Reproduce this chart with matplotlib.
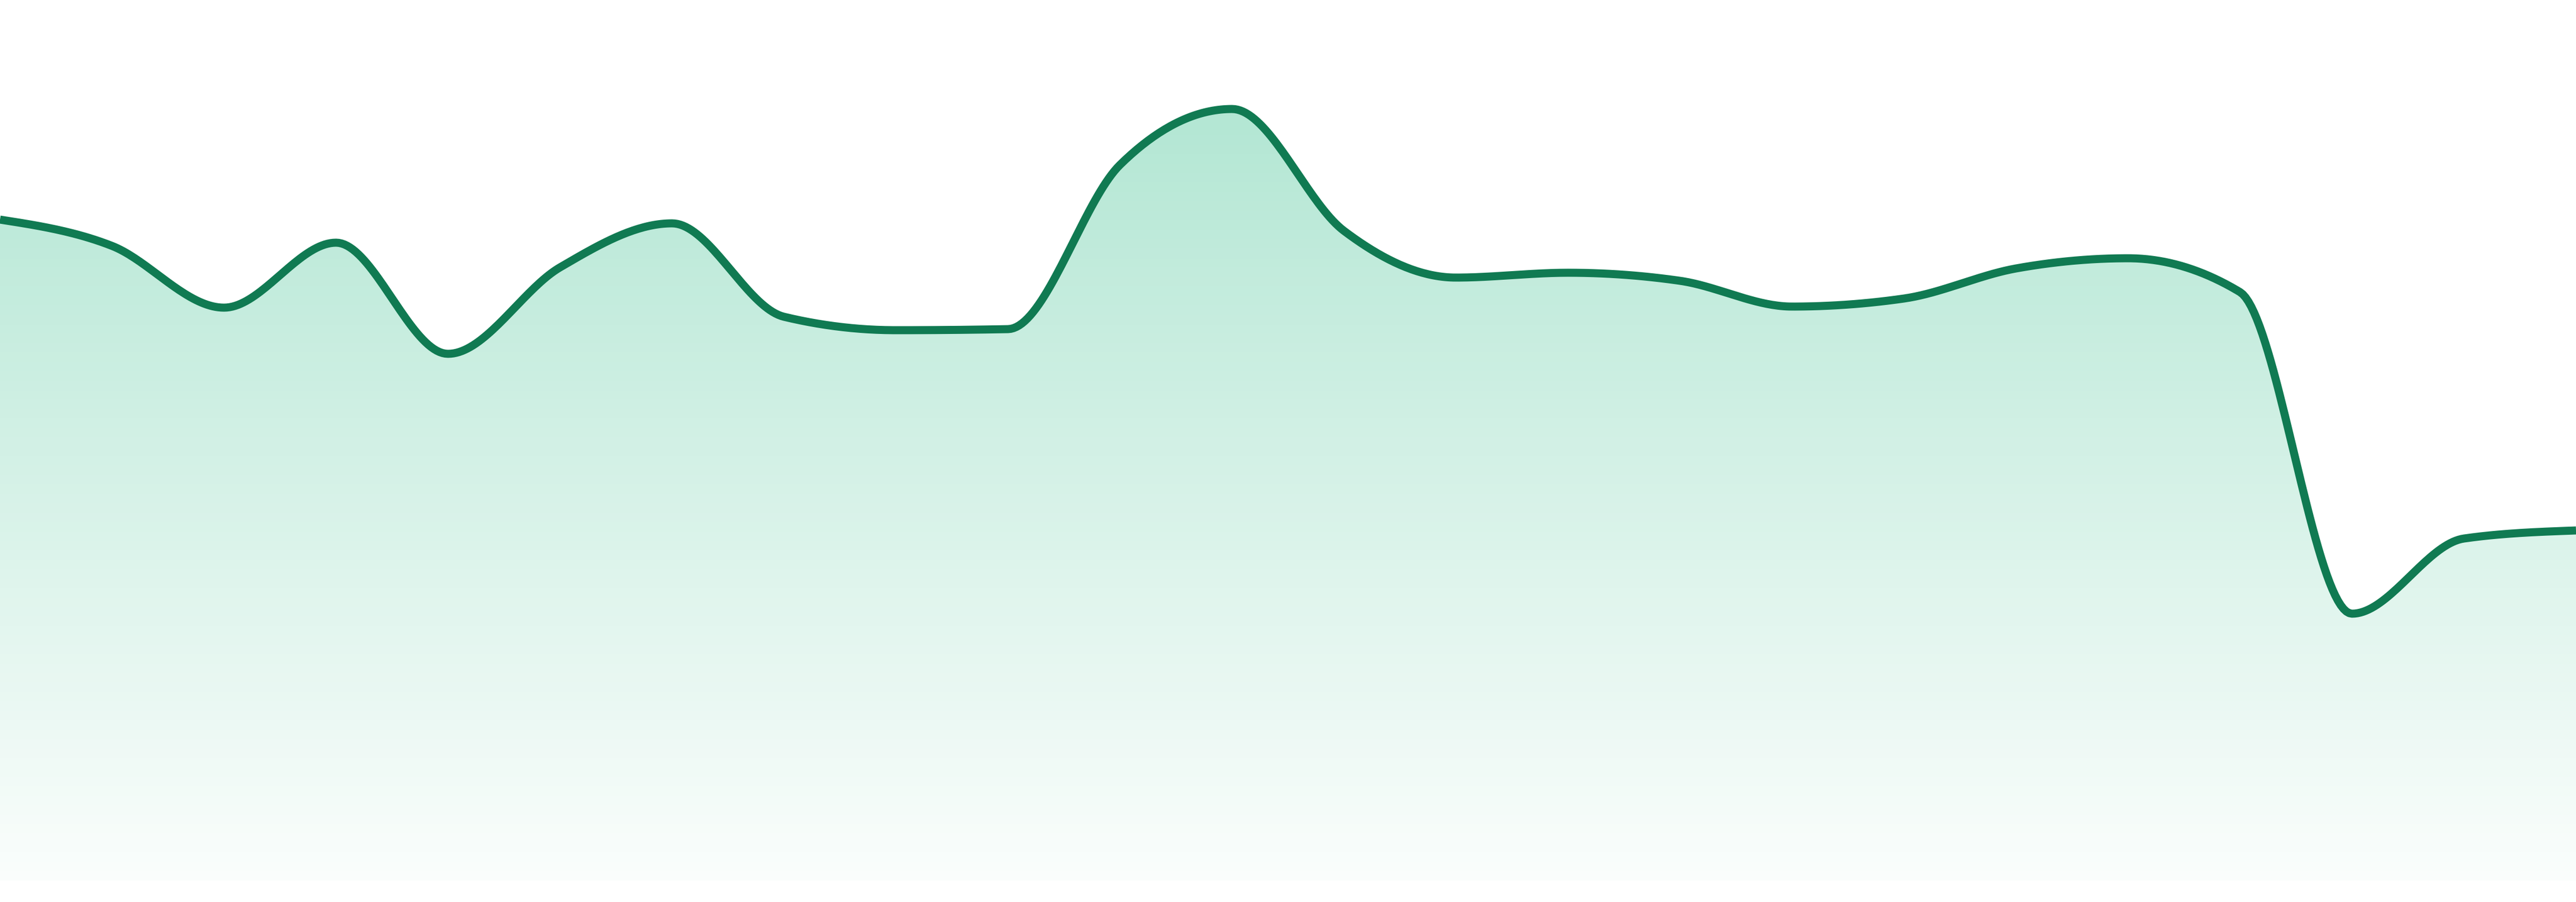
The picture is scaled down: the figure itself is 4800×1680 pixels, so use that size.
import numpy as np
import matplotlib
matplotlib.use("Agg")
import matplotlib.pyplot as plt
from matplotlib.patches import Polygon

# one value per step
steps = list(range(24))
values = [123.1, 118.2, 106.7, 118.8, 98.1, 114.2, 122.4, 105.0, 102.5, 102.7,
          133.3, 143.7, 121.0, 112.3, 113.2, 111.7, 106.9, 108.4, 114.0, 115.9,
          109.6, 49.7, 63.7, 65.2]

LINE = "#107a52"
FILL = (0.12, 0.72, 0.50)


def monotone_x(x, y, n=40):
    # same tangents as d3.curveMonotoneX, evaluated as cubic hermite
    x = np.asarray(x, float)
    y = np.asarray(y, float)
    h = np.diff(x)
    s = np.diff(y) / h
    t = np.zeros_like(y)
    for i in range(1, len(x) - 1):
        p = (s[i - 1] * h[i] + s[i] * h[i - 1]) / (h[i - 1] + h[i])
        t[i] = (np.sign(s[i - 1]) + np.sign(s[i])) * min(abs(s[i - 1]), abs(s[i]), 0.5 * abs(p))
    t[0] = (3 * s[0] - t[1]) / 2
    t[-1] = (3 * s[-1] - t[-2]) / 2
    xs, ys = [], []
    for i in range(len(x) - 1):
        u = np.linspace(0, 1, n, endpoint=False)
        h00 = 2 * u**3 - 3 * u**2 + 1
        h10 = u**3 - 2 * u**2 + u
        h01 = -2 * u**3 + 3 * u**2
        h11 = u**3 - u**2
        xs.append(x[i] + u * h[i])
        ys.append(h00 * y[i] + h10 * h[i] * t[i] + h01 * y[i + 1] + h11 * h[i] * t[i + 1])
    xs.append([x[-1]])
    ys.append([y[-1]])
    return np.concatenate(xs), np.concatenate(ys)


fig = plt.figure(figsize=(16, 5.6), dpi=300)
ax = fig.add_axes([0, 0, 1, 1])
ax.set_xlim(0, 23)
ax.set_ylim(-4, 164)
ax.axis("off")

cx, cy = monotone_x(steps, values)

# gradient fill under the curve
top = max(values)
grad = np.linspace(0, 1, 400)[:, None]
alpha = 0.02 + 0.32 * grad
img = np.zeros((400, 1, 4))
img[..., 0], img[..., 1], img[..., 2] = FILL
img[..., 3] = alpha
poly = Polygon(np.column_stack([np.r_[cx, cx[-1], cx[0]], np.r_[cy, 0, 0]]),
               closed=True, facecolor="none", edgecolor="none")
ax.add_patch(poly)
im = ax.imshow(img, extent=[0, 23, 0, top], origin="lower", aspect="auto",
               interpolation="bilinear", zorder=1)
im.set_clip_path(poly)

ax.plot(cx, cy, color=LINE, lw=3.6, solid_capstyle="butt", zorder=2)

fig.savefig("out.png", dpi=300, facecolor="white")
